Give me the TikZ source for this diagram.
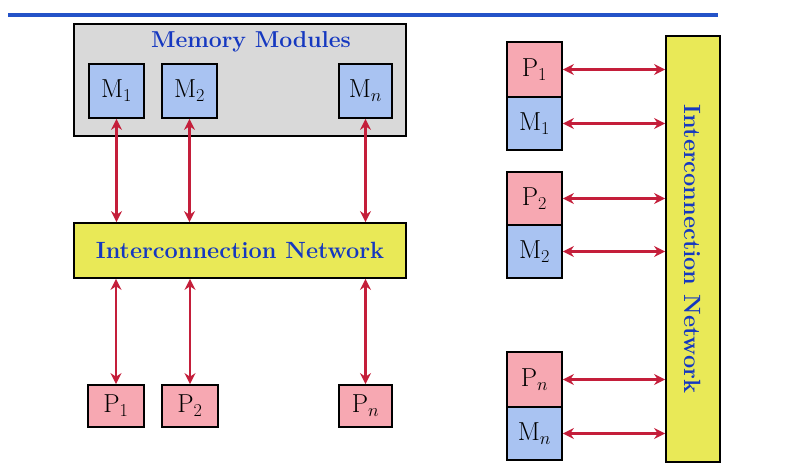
\documentclass[tikz,border=0pt]{standalone}
\usepackage{fix-cm}
\usepackage{fontspec}
\usetikzlibrary{arrows.meta}
\definecolor{topblue}{HTML}{2453C8}
\definecolor{txtblue}{HTML}{1538C0}
\definecolor{grayfill}{HTML}{D9D9D9}
\definecolor{memfill}{HTML}{A9C3F2}
\definecolor{procfill}{HTML}{F7A8B2}
\definecolor{netfill}{HTML}{E9E957}
\definecolor{arrred}{HTML}{C41E3A}
\tikzset{
  box/.style={draw=black, line width=1.8pt, inner sep=0pt, font=\fontsize{26}{28}\selectfont},
  membox/.style={box, fill=memfill},
  procbox/.style={box, fill=procfill},
  netbox/.style={draw=black, line width=1.8pt, fill=netfill, inner sep=0pt},
  nettext/.style={text=txtblue, font=\fontsize{23.5}{26}\selectfont\bfseries},
  link/.style={draw=arrred, line width=2.2pt, {Stealth[length=11pt,width=11pt]}-{Stealth[length=11pt,width=11pt]}}
}
\begin{document}
\begin{tikzpicture}[x=1pt,y=-1pt]
\useasboundingbox[fill=white] (0,0) rectangle (806,468);
% top rule
\draw[topblue, line width=4pt] (8,15) -- (718,15);
% memory modules container
\node[draw=black, line width=1.8pt, fill=grayfill, minimum width=332pt, minimum height=112pt, inner sep=0pt] (mm) at (240,80) {};
\node[nettext, font=\fontsize{23}{26}\selectfont\bfseries] (mmt) at (251,42) {Memory Modules};
\node[membox, minimum width=55pt, minimum height=54pt] (lm1) at (116.5,91) {M$_1$};
\node[membox, minimum width=55pt, minimum height=54pt] (lm2) at (189.5,91) {M$_2$};
\node[membox, minimum width=53pt, minimum height=54pt] (lmn) at (365.5,91) {M$_n$};
% left network
\node[netbox, minimum width=332pt, minimum height=55pt] (lnet) at (240,250.5) {};
\node[nettext] (lnett) at (lnet.center) {Interconnection Network};
% processors
\node[procbox, minimum width=56pt, minimum height=42pt] (lp1) at (116,406) {P$_1$};
\node[procbox, minimum width=56pt, minimum height=42pt] (lp2) at (190,406) {P$_2$};
\node[procbox, minimum width=53pt, minimum height=42pt] (lpn) at (365.5,406) {P$_n$};
% left links
\draw[link] (lm1.south) -- (lm1.south |- lnet.north);
\draw[link] (lm2.south) -- (lm2.south |- lnet.north);
\draw[link] (lmn.south) -- (lmn.south |- lnet.north);
\draw[link] (lp1.north |- lnet.south) -- (lp1.north);
\draw[link] (lp2.north |- lnet.south) -- (lp2.north);
\draw[link] (lpn.north |- lnet.south) -- (lpn.north);
% right side
\node[procbox, minimum width=55pt, minimum height=55pt] (rp1) at (534.5,69.5) {P$_1$};
\node[membox, minimum width=55pt, minimum height=53pt] (rm1) at (534.5,123.5) {M$_1$};
\node[procbox, minimum width=55pt, minimum height=53pt] (rp2) at (534.5,198.5) {P$_2$};
\node[membox, minimum width=55pt, minimum height=53pt] (rm2) at (534.5,251.5) {M$_2$};
\node[procbox, minimum width=55pt, minimum height=55pt] (rpn) at (534.5,379.5) {P$_n$};
\node[membox, minimum width=55pt, minimum height=53pt] (rmn) at (534.5,433.5) {M$_n$};
\node[netbox, minimum width=54pt, minimum height=426pt] (rnet) at (693,249) {};
\node[nettext, rotate=-90] (rnett) at (rnet.center) {Interconnection Network};
\draw[link] (rp1.east) -- (rp1.east -| rnet.west);
\draw[link] (rm1.east) -- (rm1.east -| rnet.west);
\draw[link] (rp2.east) -- (rp2.east -| rnet.west);
\draw[link] (rm2.east) -- (rm2.east -| rnet.west);
\draw[link] (rpn.east) -- (rpn.east -| rnet.west);
\draw[link] (rmn.east) -- (rmn.east -| rnet.west);
\end{tikzpicture}
\end{document}
